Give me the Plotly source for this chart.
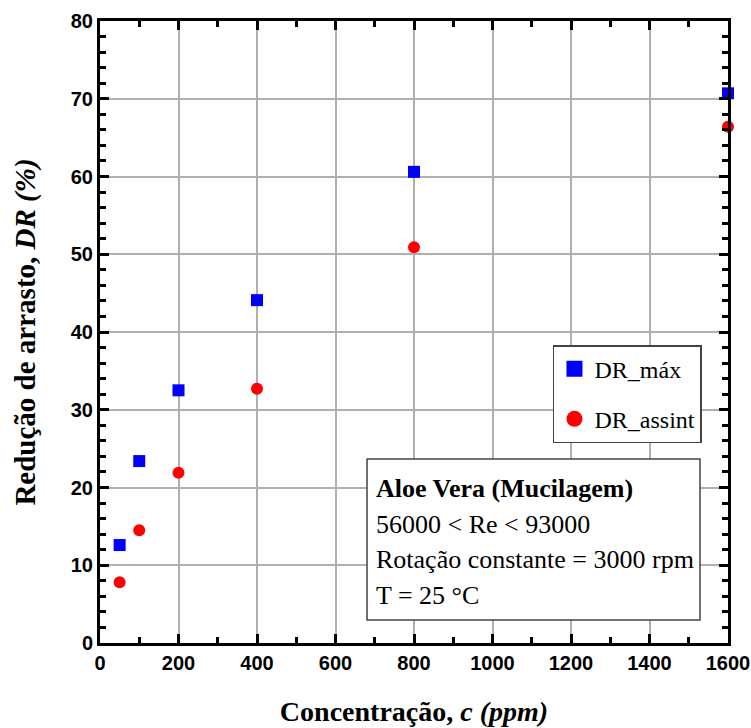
import plotly.graph_objects as go

# Concentração (ppm)
concentracao = [50, 100, 200, 400, 800, 1600]
# Redução de arrasto (%)
dr_max = [12.6, 23.4, 32.5, 44.1, 60.6, 70.7]
dr_assint = [7.8, 14.5, 21.9, 32.7, 50.9, 66.4]

series_names = ["DR_máx", "DR_assint"]
info_lines = [
    "<b>Aloe Vera (Mucilagem)</b>",
    "56000 &lt; Re &lt; 93000",
    "Rotação constante = 3000 rpm",
    "T = 25 °C",
]

x_ticks = [0, 200, 400, 600, 800, 1000, 1200, 1400, 1600]
y_ticks = [0, 10, 20, 30, 40, 50, 60, 70, 80]

serif = "Liberation Serif, Times New Roman, serif"
sans = "Liberation Sans, Arial, sans-serif"

styles = [
    dict(symbol="square", color="#0000ff"),
    dict(symbol="circle", color="#ff0000"),
]

fig = go.Figure()
for name, values, st, grp in zip(series_names, [dr_max, dr_assint], styles, ["a", "b"]):
    # data points
    fig.add_trace(go.Scatter(
        x=concentracao, y=values, mode="markers", name=name,
        legendgroup=grp, showlegend=False,
        marker=dict(symbol=st["symbol"], size=12, color=st["color"]),
        cliponaxis=False,
    ))
    # legend entry with a larger symbol
    fig.add_trace(go.Scatter(
        x=[None], y=[None], mode="markers", name=name,
        legendgroup=grp, showlegend=True,
        marker=dict(symbol=st["symbol"], size=16, color=st["color"]),
    ))

axis_common = dict(
    showline=True, linecolor="black", linewidth=3, mirror="allticks",
    ticks="inside", ticklen=9, tickwidth=3, tickcolor="black",
    showgrid=True, gridcolor="#b0b0b0", gridwidth=1.5,
    zeroline=False, automargin=False,
    tickfont=dict(family=sans, size=20, color="black", weight="bold"),
)

fig.update_xaxes(
    range=[0, 1600], tickvals=x_ticks, ticktext=[str(v) for v in x_ticks],
    minor=dict(dtick=100, ticks="inside", ticklen=6, tickwidth=3, tickcolor="black", showgrid=False),
    title=dict(text="<b>Concentração, <i>c (ppm)</i></b>",
               font=dict(family=serif, size=28, color="black"), standoff=29),
    **axis_common,
)
fig.update_yaxes(
    range=[0, 80], tickvals=y_ticks, ticktext=[str(v) for v in y_ticks],
    minor=dict(dtick=2, ticks="inside", ticklen=6, tickwidth=3, tickcolor="black", showgrid=False),
    title=dict(text="<b>Redução de arrasto, <i>DR (%)</i></b>",
               font=dict(family=serif, size=29, color="black"), standoff=27),
    **axis_common,
)

# info box: frame plus one text line per row
fig.add_shape(
    type="rect", xref="paper", yref="paper",
    x0=0.4252, x1=0.9554, y0=0.037, y1=0.2958,
    line=dict(color="#444444", width=1.5), fillcolor="white", layer="above",
)
line_centers = [0.2476, 0.1913, 0.1350, 0.0756]
for txt, yc in zip(info_lines, line_centers):
    fig.add_annotation(
        x=0.4363, y=yc, xref="paper", yref="paper",
        xanchor="left", yanchor="middle", align="left", showarrow=False,
        text=txt, font=dict(family=serif, size=26, color="black"),
    )

fig.update_layout(
    width=751, height=728,
    margin=dict(l=100, r=23, t=21, b=85),
    paper_bgcolor="white", plot_bgcolor="white",
    legend=dict(
        x=0.7213, y=0.479, xanchor="left", yanchor="top",
        font=dict(family=serif, size=24, color="black"),
        bordercolor="#444444", borderwidth=1.5, bgcolor="white",
        tracegroupgap=16, itemwidth=30,
    ),
)

fig.write_html("out.html")
